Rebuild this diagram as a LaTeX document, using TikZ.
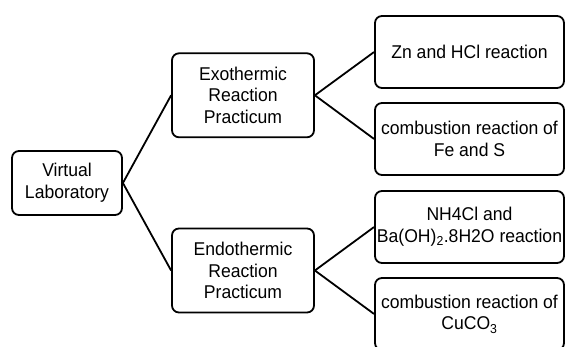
\documentclass[tikz,border=0pt]{standalone}
\usepackage{fontspec}
\setmainfont{Liberation Sans}[FakeStretch=0.95]
\usepackage{tikz}
\usetikzlibrary{positioning}

\begin{document}
\begin{tikzpicture}[
    x=1pt, y=-1pt,
    % Styles for the boxes and links
    box/.style={draw=black, line width=1.8pt, rounded corners=7pt, align=center,
        inner sep=0pt, font=\fontsize{18.5}{21.7}\selectfont},
    link/.style={line width=1.8pt, draw=black}
]
        \useasboundingbox (0,0) rectangle (565,347);
        \clip (0,0) rectangle (565,347);

        % --- Root ---
        \node[box, minimum width=110pt, minimum height=64pt] (lab) at (67,183) {Virtual\\Laboratory};

        % --- Practicum ---
        \node[box, minimum width=142pt, minimum height=84pt] (exo) at (243,95.3) {Exothermic\\Reaction\\Practicum};
        \node[box, minimum width=142pt, minimum height=84pt] (endo) at (243,270.5) {Endothermic\\Reaction\\Practicum};

        % --- Reactions ---
        \node[box, minimum width=189pt, minimum height=72pt] (zn) at (469.5,52) {Zn and HCl reaction};
        \node[box, minimum width=189pt, minimum height=72pt] (fes) at (469.5,139) {combustion reaction of\\Fe and S};
        \node[box, minimum width=189pt, minimum height=72pt] (nh) at (469.5,227) {NH4Cl and\\Ba(OH)\textsubscript{2}.8H2O reaction};
        \node[box, minimum width=189pt, minimum height=72pt] (cu) at (469.5,314) {combustion reaction of\\CuCO\textsubscript{3}};

        % --- Edges ---
        \draw[link] (lab.east) -- (exo.west);
        \draw[link] (lab.east) -- (endo.west);
        \draw[link] (exo.east) -- (zn.west);
        \draw[link] (exo.east) -- (fes.west);
        \draw[link] (endo.east) -- (nh.west);
        \draw[link] (endo.east) -- (cu.west);

\end{tikzpicture}
\end{document}
